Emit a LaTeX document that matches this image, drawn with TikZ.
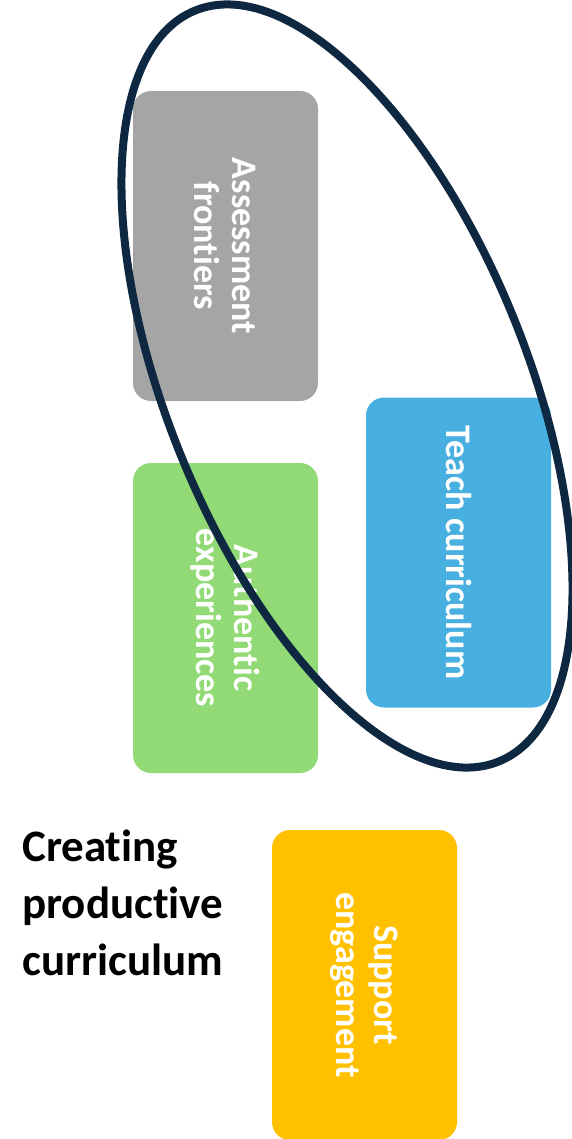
\documentclass[tikz,border=0pt]{standalone}
\usepackage{fontspec}
\setmainfont{Carlito}[Ligatures=NoCommon]
\usepackage{tikz}
\definecolor{cardgrey}{HTML}{A5A5A5}
\definecolor{cardblue}{RGB}{72,176,224}
\definecolor{cardgreen}{RGB}{146,218,118}
\definecolor{cardyellow}{HTML}{FFC000}
\definecolor{ringnavy}{RGB}{14,40,65}
\tikzstyle{card}=[rounded corners=18pt,minimum width=310pt,minimum height=185pt,rotate=-90,
    text=white,align=center,font=\fontsize{36}{38}\selectfont\bfseries]
\tikzstyle{ring}=[draw=ringnavy,line width=8pt]

\begin{document}
\begin{tikzpicture}[x=1pt,y=1pt]
    \useasboundingbox (0,0) rectangle (571,-1139);
    % cards
    \node (assess) [card,fill=cardgrey] at (225.5,-246) {Assessment\\frontiers};
    \node (teach) [card,fill=cardblue] at (458.5,-552.5) {Teach curriculum};
    \node (authentic) [card,fill=cardgreen] at (225.5,-618) {Authentic\\experiences};
    \node (support) [card,fill=cardyellow] at (364.5,-985) {Support\\engagement};
    % title
    \node (title) [anchor=north west,inner sep=0pt,align=left,
        font=\fontsize{45}{57}\selectfont\bfseries] at (22,-830)
        {Creating\\productive\\curriculum};
    % ring round the upper cards
    \coordinate (ringc) at (347,-386);
    \draw[ring,rotate around={22:(ringc)}] (ringc) ellipse (180pt and 405pt);
\end{tikzpicture}
\end{document}
